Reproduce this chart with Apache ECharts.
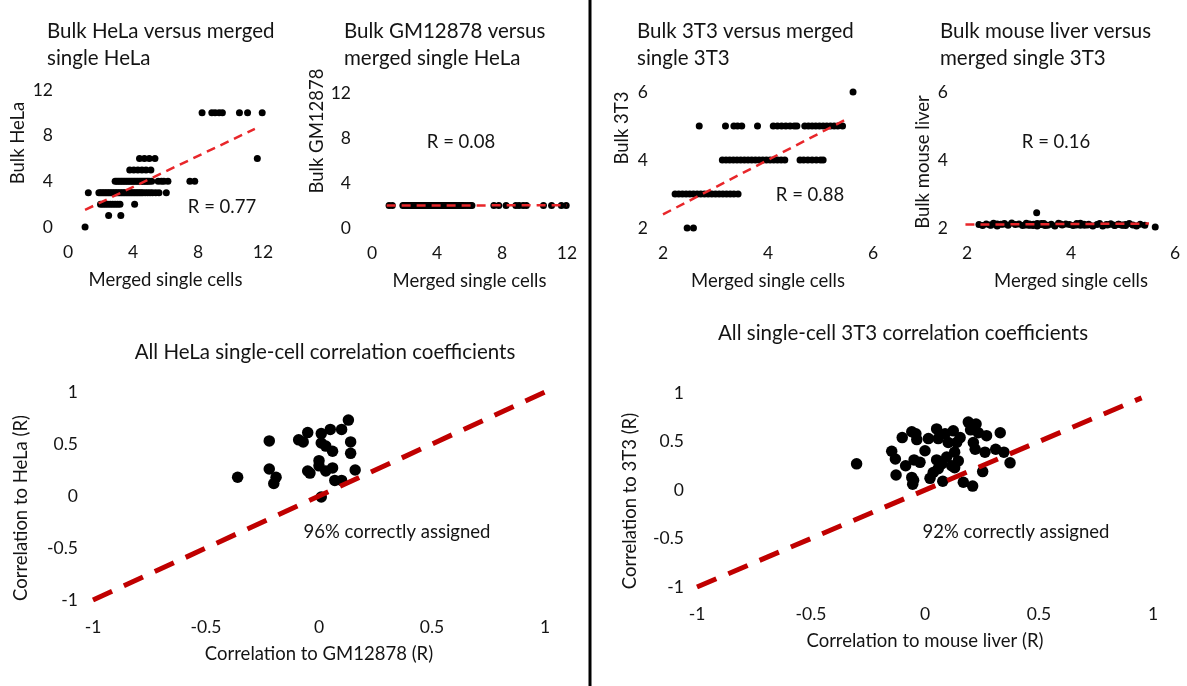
<!DOCTYPE html>
<html><head><meta charset="utf-8">
<script src="https://cdn.jsdelivr.net/npm/echarts@6/dist/echarts.min.js"></script>
<style>html,body{margin:0;padding:0;background:#fff}#c{width:1187px;height:686px}</style>
</head><body><div id="c"></div><script>
// ---- Panel 1 & 2: merged single HeLa cells vs bulk HeLa / bulk GM12878 ----
const helaMerged = [1.05,
  2.5,3.25,
  2.0,2.15,2.3,2.45,2.6,2.75,2.9,3.05,3.2,4.1,
  1.25,1.9,2.0,2.1,2.2,2.3,2.4,2.5,2.6,2.7,2.8,2.9,3.0,3.1,3.2,3.3,3.4,3.5,3.6,3.7,3.8,3.9,4.0,4.1,4.2,4.3,4.4,4.5,4.6,4.75,4.9,5.05,5.2,5.4,5.6,6.05,
  2.9,3.0,3.1,3.2,3.3,3.4,3.5,3.6,3.7,3.8,3.9,4.0,4.1,4.2,4.3,4.4,4.5,4.6,4.7,4.8,4.9,5.0,5.15,5.55,5.75,5.9,6.15,7.5,7.8,
  3.8,4.05,4.3,4.55,4.8,5.1,
  4.4,4.7,5.0,5.35,11.65,
  8.25,8.85,9.05,9.3,9.5,10.55,11.05,11.95];
const helaBulk = [0,
  1,1,
  2,2,2,2,2,2,2,2,2,2,
  3,3,3,3,3,3,3,3,3,3,3,3,3,3,3,3,3,3,3,3,3,3,3,3,3,3,3,3,3,3,3,3,3,3,3,3,
  4,4,4,4,4,4,4,4,4,4,4,4,4,4,4,4,4,4,4,4,4,4,4,4,4,4,4,4,4,
  5,5,5,5,5,5,
  6,6,6,6,6,
  10,10,10,10,10,10,10,10];
const gmBulk = [2,
  2,2,
  2,2,2,2,2,2,2,2,2,2,
  2,2,2,2,2,2,2,2,2,2,2,2,2,2,2,2,2,2,2,2,2,2,2,2,2,2,2,2,2,2,2,2,2,2,2,2,
  2,2,2,2,2,2,2,2,2,2,2,2,2,2,2,2,2,2,2,2,2,2,2,2,2,2,2,2,2,
  2,2,2,2,2,2,
  2,2,2,2,2,
  2,2,2,2,2,2,2,2];
const helaTrendX = [1.05, 11.5], helaTrendY = [1.5, 8.6];
const gmTrendX = [0.9, 12.0], gmTrendY = [2.0, 2.02];

// ---- Panel 3 & 4: merged single 3T3 cells vs bulk 3T3 / bulk mouse liver ----
const t3Merged = [2.46,2.58,
  2.23,2.3,2.37,2.44,2.51,2.58,2.65,2.72,2.79,2.86,2.93,3.0,3.07,3.14,3.21,3.28,3.35,3.43,
  3.13,3.2,3.27,3.34,3.41,3.48,3.55,3.62,3.69,3.76,3.83,3.9,3.97,4.04,4.11,4.18,4.25,4.32,4.61,4.68,4.76,4.84,4.92,5.0,5.05,
  2.69,3.19,3.35,3.42,3.5,3.8,4.1,4.18,4.26,4.34,4.42,4.5,4.55,4.7,4.77,4.84,4.91,4.98,5.05,5.12,5.19,5.26,5.33,5.42,
  5.62];
const t3Bulk = [2,2,
  3,3,3,3,3,3,3,3,3,3,3,3,3,3,3,3,3,3,
  4,4,4,4,4,4,4,4,4,4,4,4,4,4,4,4,4,4,4,4,4,4,4,4,4,
  5,5,5,5,5,5,5,5,5,5,5,5,5,5,5,5,5,5,5,5,5,5,5,5,
  6];
const liverBulk = [2.08,2.12,
  2.1,2.07,2.12,2.09,2.14,2.06,2.11,2.13,2.08,2.15,2.1,2.12,2.07,2.14,2.09,2.11,2.06,2.13,
  2.09,2.12,2.07,2.45,2.1,2.13,2.08,2.11,2.06,2.14,2.09,2.12,2.1,2.07,2.13,2.08,2.11,2.09,2.06,2.1,2.12,2.08,2.11,2.09,2.07,
  2.11,2.08,2.13,2.1,2.07,2.12,2.09,2.14,2.08,2.11,2.06,2.1,2.13,2.09,2.12,2.07,2.11,2.08,2.1,2.13,2.09,2.06,2.11,2.08,
  2.03];
const t3TrendX = [2.0, 5.47], t3TrendY = [2.4, 5.18];
const liverTrendX = [1.97, 5.5], liverTrendY = [2.1, 2.13];

// ---- Bottom left: HeLa single cells ----
const helaCellGM = [-0.36,-0.22,-0.22,-0.19,-0.20,-0.09,-0.07,-0.05,-0.05,-0.04,0.01,0.01,0.03,0.05,0.06,0.00,0.00,0.03,0.06,0.10,0.13,0.14,0.14,0.16,0.07,0.10,0.01];
const helaCellHeLa = [0.18,0.53,0.26,0.18,0.12,0.54,0.52,0.61,0.24,0.22,0.60,0.51,0.48,0.64,0.43,0.34,0.29,0.24,0.27,0.64,0.73,0.52,0.41,0.25,0.15,0.15,-0.01];
const diagLX = [-1, 1], diagLY = [-1, 1];

// ---- Bottom right: 3T3 single cells ----
const t3CellLiver = [-0.30,-0.146,-0.13,-0.127,-0.10,-0.085,-0.058,-0.04,-0.036,-0.058,-0.05,-0.054,-0.048,-0.022,0.0,0.015,0.022,0.051,0.058,0.051,0.058,0.073,0.036,0.078,0.088,0.102,0.124,0.13,0.139,0.154,0.146,0.13,0.117,0.19,0.20,0.224,0.234,0.212,0.22,0.27,0.263,0.253,0.168,0.209,0.31,0.33,0.346,0.373,0.095];
const t3Cell3T3 = [0.27,0.40,0.32,0.155,0.54,0.25,0.60,0.58,0.52,0.13,0.10,0.06,0.31,0.285,0.405,0.53,0.12,0.63,0.53,0.31,0.22,0.27,0.18,0.09,0.58,0.49,0.61,0.39,0.49,0.54,0.30,0.23,0.25,0.70,0.62,0.68,0.59,0.49,0.42,0.56,0.39,0.19,0.08,0.04,0.42,0.59,0.39,0.28,0.34];
const diagRX = [-1, 0.95], diagRY = [-1, 0.95];

// tick labels
const topTicksHeLa = [0, 12, 4];   // min, max, interval
const topTicks3T3 = [2, 6, 2];
const bottomTicks = [-1, 1, 0.5];

const FONT = "Lato, 'Open Sans', sans-serif";
const TXT = '#141414';
const zip = (a, b) => a.map((v, i) => [v, b[i]]);

const grids = [
  {left: 68, top: 90, width: 195, height: 137},
  {left: 372, top: 93, width: 195, height: 135},
  {left: 663, top: 92, width: 210, height: 136},
  {left: 967, top: 92, width: 208, height: 136},
  {left: 93, top: 392, width: 452, height: 208},
  {left: 697, top: 393, width: 456, height: 194}
];
const ticks = [topTicksHeLa, topTicksHeLa, topTicks3T3, topTicks3T3, bottomTicks, bottomTicks];
const xNames = ['Merged single cells','Merged single cells','Merged single cells','Merged single cells','Correlation to GM12878 (R)','Correlation to mouse liver (R)'];
const yMargins = [15, 21, 15, 19, 15, 13];

function axisBase(i, t) {
  return {
    gridIndex: i, type: 'value', min: t[0], max: t[1], interval: t[2],
    axisLine: {show: false}, axisTick: {show: false}, splitLine: {show: false}
  };
}
const xAxes = grids.map((g, i) => Object.assign(axisBase(i, ticks[i]), {
  name: xNames[i], nameLocation: 'middle', nameGap: i < 4 ? 44 : 45,
  nameTextStyle: {color: TXT, fontSize: 18.5, fontFamily: FONT},
  axisLabel: {color: TXT, fontSize: 17.5, fontFamily: FONT, margin: i < 4 ? 16 : 18}
}));
const yAxes = grids.map((g, i) => Object.assign(axisBase(i, ticks[i]), {
  axisLabel: {color: TXT, fontSize: 17.5, fontFamily: FONT, margin: yMargins[i]}
}));

function scatter(i, xs, ys, size) {
  return {type: 'scatter', xAxisIndex: i, yAxisIndex: i, data: zip(xs, ys),
    symbolSize: size, itemStyle: {color: '#000', opacity: 1}, z: 2, silent: true};
}
function trend(i, xs, ys, color, width, dash) {
  return {type: 'line', xAxisIndex: i, yAxisIndex: i, data: zip(xs, ys),
    symbol: 'none', z: 3, silent: true,
    lineStyle: {color: color, width: width, type: dash, cap: 'butt'}};
}
const RED = '#e8262a', DRED = '#c00000';
const series = [
  scatter(0, helaMerged, helaBulk, 7),
  scatter(1, helaMerged, gmBulk, 7),
  scatter(2, t3Merged, t3Bulk, 7),
  scatter(3, t3Merged, liverBulk, 7),
  scatter(4, helaCellGM, helaCellHeLa, 11.5),
  scatter(5, t3CellLiver, t3Cell3T3, 11.5),
  trend(0, helaTrendX, helaTrendY, RED, 2.5, [9, 6]),
  trend(1, gmTrendX, gmTrendY, RED, 2.5, [9, 6]),
  trend(2, t3TrendX, t3TrendY, RED, 2.5, [9, 6]),
  trend(3, liverTrendX, liverTrendY, RED, 2.5, [9, 6]),
  trend(4, diagLX, diagLY, DRED, 5, [21, 13]),
  trend(5, diagRX, diagRY, DRED, 5, [21, 13])
];

function txt(x, y, text, size, align, rot) {
  return {type: 'text', x: x, y: y, rotation: rot || 0, silent: true,
    style: {text: text, fill: TXT, font: size + 'px ' + FONT,
      textAlign: align || 'center', align: align || 'center',
      textVerticalAlign: 'middle', verticalAlign: 'middle'}};
}
const V = Math.PI / 2;
const graphic = [
  txt(47, 31, 'Bulk HeLa versus merged', 20.5, 'left'),
  txt(47, 58, 'single HeLa', 20.5, 'left'),
  txt(344, 31, 'Bulk GM12878 versus', 20.5, 'left'),
  txt(344, 58, 'merged single HeLa', 20.5, 'left'),
  txt(637, 31, 'Bulk 3T3 versus merged', 20.5, 'left'),
  txt(637, 58, 'single 3T3', 20.5, 'left'),
  txt(940, 31, 'Bulk mouse liver versus', 20.5, 'left'),
  txt(940, 58, 'merged single 3T3', 20.5, 'left'),
  txt(18, 143, 'Bulk HeLa', 18.5, 'center', V),
  txt(317, 131, 'Bulk GM12878', 18.5, 'center', V),
  txt(622, 128, 'Bulk 3T3', 18.5, 'center', V),
  txt(923, 162, 'Bulk mouse liver', 18.5, 'center', V),
  txt(21, 508, 'Correlation to HeLa (R)', 18.5, 'center', V),
  txt(630, 501, 'Correlation to 3T3 (R)', 18.5, 'center', V),
  txt(222, 207, 'R = 0.77', 18.5),
  txt(461, 142, 'R = 0.08', 18.5),
  txt(810, 195, 'R = 0.88', 18.5),
  txt(1056, 142, 'R = 0.16', 18.5),
  txt(397, 532, '96% correctly assigned', 18.5),
  txt(1016, 532, '92% correctly assigned', 18.5),
  txt(325, 352, 'All HeLa single-cell correlation coefficients', 20.5),
  txt(903, 333, 'All single-cell 3T3 correlation coefficients', 20.5),
  {type: 'line', silent: true, shape: {x1: 590, y1: 0, x2: 590, y2: 686},
    style: {stroke: '#000', lineWidth: 3}}
];

const chart = echarts.init(document.getElementById('c'), null, {renderer: 'canvas'});
chart.setOption({
  animation: false,
  backgroundColor: '#fff',
  grid: grids,
  xAxis: xAxes,
  yAxis: yAxes,
  series: series,
  graphic: graphic
});
</script></body></html>
